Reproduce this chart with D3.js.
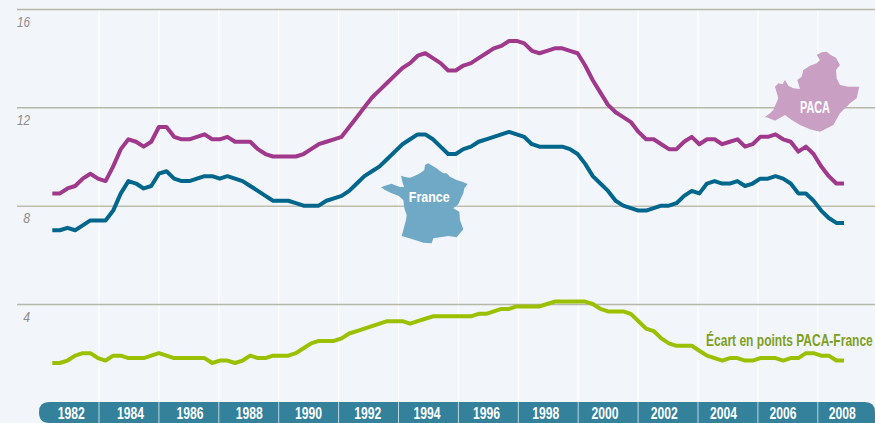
<!DOCTYPE html>
<html><head><meta charset="utf-8">
<script src="https://cdn.jsdelivr.net/npm/d3@7"></script>
<style>
html,body{margin:0;padding:0;background:#f2f6fa;overflow:hidden}
svg{display:block}
text{font-family:"Liberation Sans",sans-serif}
</style></head><body>
<div id="chart"></div>
<script>
const paca = [8.5,8.5,8.7,8.8,9.1,9.3,9.1,9.0,9.6,10.3,10.7,10.6,10.4,10.6,11.2,11.2,10.8,10.7,10.7,10.8,10.9,10.7,10.7,10.8,10.6,10.6,10.6,10.3,10.1,10.0,10.0,10.0,10.0,
10.1,10.3,10.5,10.6,10.7,10.8,11.2,11.6,12.0,12.4,12.7,13.0,13.3,13.6,13.8,14.1,14.2,14.0,13.8,13.5,13.5,13.7,13.8,14.0,14.2,14.4,14.5,14.7,14.7,14.6,14.3,14.2,14.3,14.4,14.4,14.3,14.2,13.7,13.1,
12.6,12.1,11.8,11.6,11.4,11.0,10.7,10.7,10.5,10.3,10.3,10.6,10.8,10.5,10.7,10.7,10.5,10.6,10.7,10.4,10.5,10.8,10.8,10.9,10.7,10.6,10.2,10.4,10.1,9.6,9.2,8.9,8.9];
const france = [7.0,7.0,7.1,7.0,7.2,7.4,7.4,7.4,7.8,8.5,9.0,8.9,8.7,8.8,9.3,9.4,9.1,9.0,9.0,9.1,9.2,9.2,9.1,9.2,9.1,9.0,8.8,8.6,8.4,8.2,8.2,8.2,8.1,
8.0,8.0,8.0,8.2,8.3,8.4,8.6,8.9,9.2,9.4,9.6,9.9,10.2,10.5,10.7,10.9,10.9,10.7,10.4,10.1,10.1,10.3,10.4,10.6,10.7,10.8,10.9,11.0,10.9,10.8,10.5,10.4,10.4,10.4,10.4,10.3,10.1,9.7,9.2,
8.9,8.6,8.2,8.0,7.9,7.8,7.8,7.9,8.0,8.0,8.1,8.4,8.6,8.5,8.9,9.0,8.9,8.9,9.0,8.8,8.9,9.1,9.1,9.2,9.1,8.9,8.5,8.5,8.2,7.8,7.5,7.3,7.3];
const ecart = [1.6,1.6,1.7,1.9,2.0,2.0,1.8,1.7,1.9,1.9,1.8,1.8,1.8,1.9,2.0,1.9,1.8,1.8,1.8,1.8,1.8,1.6,1.7,1.7,1.6,1.7,1.9,1.8,1.8,1.9,1.9,1.9,2.0,
2.2,2.4,2.5,2.5,2.5,2.6,2.8,2.9,3.0,3.1,3.2,3.3,3.3,3.3,3.2,3.3,3.4,3.5,3.5,3.5,3.5,3.5,3.5,3.6,3.6,3.7,3.8,3.8,3.9,3.9,3.9,3.9,4.0,4.1,4.1,4.1,4.1,4.1,4.0,
3.8,3.7,3.7,3.7,3.6,3.3,3.0,2.9,2.6,2.4,2.3,2.3,2.3,2.1,1.9,1.8,1.7,1.8,1.8,1.7,1.7,1.8,1.8,1.8,1.7,1.8,1.8,2.0,2.0,1.9,1.9,1.7,1.7];
const yTicks = [4,8,12,16];
const yearLabels = [1982,1984,1986,1988,1990,1992,1994,1996,1998,2000,2002,2004,2006,2008];
const seriesNames = ["PACA","France","Écart en points PACA-France"];

const W=875,H=423;
const svg=d3.select("#chart").append("svg").attr("width",W).attr("height",H);
svg.append("rect").attr("width",W).attr("height",H).attr("fill","#f2f6fa");

const y=d3.scaleLinear().domain([4,16]).range([304,9]);
const xq=d3.scaleLinear().domain([0,paca.length-1]).range([52.3,844]);
const xYear=d3.scaleLinear().domain([1982,2010]).range([39.1,877.7]);
const xLabel=d3.scaleLinear().domain([1982,2008]).range([70.8,841.7]);

// squeeze a text horizontally so that it fills a given width, as a condensed face would
function squeeze(sel,x,yy,anchor,width){
  sel.each(function(){
    const t=d3.select(this).attr("x",0).attr("y",0).attr("dy",null).attr("text-anchor","start");
    const natural=this.getComputedTextLength();
    const w=typeof width==="function"?width(t.datum()):width;
    const left=anchor==="middle"?x-w/2:anchor==="end"?x-w:x;
    t.attr("transform",`translate(${left},${yy}) scale(${w/natural},1)`);
  });
}

// vertical white grid
const gridYears=d3.range(1984,2010,2);
svg.append("g").selectAll("line").data(gridYears).join("line")
  .attr("x1",d=>xYear(d)).attr("x2",d=>xYear(d)).attr("y1",10).attr("y2",402)
  .attr("stroke","#ffffff").attr("stroke-width",1.2);

// horizontal rules and tick labels
const yAxis=d3.axisRight(y).tickValues(yTicks).tickSize(858).tickPadding(0).tickFormat(d3.format("d"));
const gy=svg.append("g").attr("transform","translate(17,0)").call(yAxis);
gy.select(".domain").remove();
gy.selectAll(".tick line").attr("stroke",d=>d===8?"#a3a28a":"#b7b7a8").attr("stroke-width",d=>d===8?1:1.5);
const ytxt=gy.selectAll(".tick text")
  .attr("font-family",'"Liberation Sans",sans-serif')
  .attr("font-size",15.5).attr("font-style","italic").attr("fill","#8c8c8c");
squeeze(ytxt,13,17,"end",d=>d>9?13:6.8);

// France and PACA silhouettes
const francePts=[[18,97],[30,92],[50,86],[58,90],[75,96],[87,96],[82,80],[78,62],[90,66],[105,68],[120,62],[135,55],[148,45],[150,30],[160,25],[172,32],[185,40],[195,48],[205,55],[215,55],[225,65],[245,75],[262,80],[278,87],[268,100],[265,115],[258,130],[250,148],[235,160],[253,170],[255,195],[265,223],[245,247],[220,243],[195,247],[175,250],[170,265],[145,263],[120,255],[80,243],[93,195],[95,180],[88,160],[85,135],[70,122],[50,115],[30,105]];
const pacaPts=[[14,217],[30,205],[40,195],[55,160],[45,125],[55,115],[68,118],[75,105],[85,122],[100,130],[120,132],[112,105],[125,95],[130,75],[150,62],[170,55],[180,45],[170,30],[185,22],[200,20],[212,30],[228,38],[240,60],[228,75],[230,100],[240,120],[265,125],[298,125],[290,160],[270,175],[240,205],[220,240],[210,245],[180,260],[150,253],[120,240],[95,225],[75,210],[45,227],[20,217]];
const poly=d3.line().curve(d3.curveLinearClosed);
svg.append("path").attr("transform","translate(375,155) scale(0.3333)").attr("d",poly(francePts)).attr("fill","#70a9c5");
svg.append("path").attr("transform","translate(760,45) scale(0.3333)").attr("d",poly(pacaPts)).attr("fill","#c99fc4");

// series lines
const line=d3.line().x((d,i)=>xq(i)).y(d=>y(d));
[[paca,"#a0388c"],[france,"#00668c"],[ecart,"#9bc000"]].forEach(([s,c])=>{
  svg.append("path").datum(s).attr("d",line).attr("fill","none").attr("stroke",c)
    .attr("stroke-width",4).attr("stroke-linejoin","round");
});

// labels
function label(x,yy,anchor,len,fs,fill,t){
  const el=svg.append("text").attr("font-size",fs).attr("font-weight","bold").attr("fill",fill).text(t);
  squeeze(el,x,yy,anchor,len);
}
label(429.3,201.7,"middle",41,15.5,"#fff",seriesNames[1]);
label(815,113,"middle",30,16,"#fff",seriesNames[0]);
label(706,346,"start",167,16,"#7f9f1e",seriesNames[2]);

// bottom time band
const bx0=39,bx1=875,by0=402,r=10;
svg.append("path").attr("fill","#33819b")
  .attr("d",`M${bx0+r},${by0}L${bx1-r},${by0}Q${bx1},${by0} ${bx1},${by0+r}L${bx1},${by0+21}L${bx0+r},${by0+21}Q${bx0},${by0+21} ${bx0},${by0+r}Q${bx0},${by0} ${bx0+r},${by0}Z`);
const xAxis=d3.axisBottom(xLabel).tickValues(yearLabels).tickSize(0).tickPadding(0).tickFormat(d3.format("d"));
const gx=svg.append("g").attr("transform","translate(0,402)").call(xAxis);
gx.select(".domain").remove();
const xtxt=gx.selectAll(".tick text")
  .attr("font-family",'"Liberation Sans",sans-serif')
  .attr("font-size",16).attr("font-weight","bold").attr("fill","#fff");
squeeze(xtxt,0,17,"middle",27);
svg.append("g").selectAll("line").data(gridYears).join("line")
  .attr("x1",d=>xYear(d)).attr("x2",d=>xYear(d)).attr("y1",402).attr("y2",423)
  .attr("stroke","#bcd6df").attr("stroke-width",1);
</script>
</body></html>
